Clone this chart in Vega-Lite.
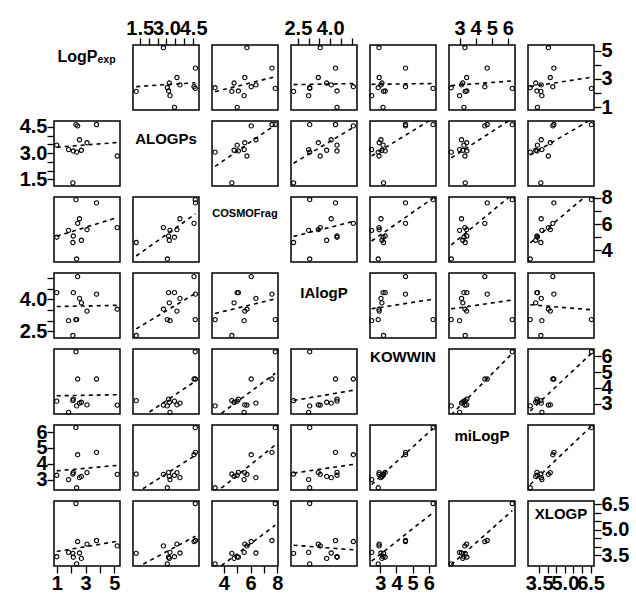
{
"$schema": "https://vega.github.io/schema/vega-lite/v6.json",
"padding": {"left": 18, "top": 17, "right": 5, "bottom": 0},
"datasets": {"d": [
{"LogPexp":2.33,"ALOGPs":4.62,"COSMOFrag":7.85,"IAlogP":3.05,"KOWWIN":6.27,"miLogP":6.28,"XLOGP":6.55},
{"LogPexp":2.12,"ALOGPs":1.30,"COSMOFrag":4.60,"IAlogP":2.30,"KOWWIN":3.20,"miLogP":3.35,"XLOGP":3.60},
{"LogPexp":5.20,"ALOGPs":2.83,"COSMOFrag":5.73,"IAlogP":3.54,"KOWWIN":2.92,"miLogP":3.33,"XLOGP":4.04},
{"LogPexp":3.76,"ALOGPs":4.63,"COSMOFrag":7.60,"IAlogP":4.25,"KOWWIN":4.56,"miLogP":4.72,"XLOGP":4.36},
{"LogPexp":1.00,"ALOGPs":3.45,"COSMOFrag":5.00,"IAlogP":4.32,"KOWWIN":3.17,"miLogP":3.27,"XLOGP":3.40},
{"LogPexp":2.38,"ALOGPs":3.05,"COSMOFrag":3.35,"IAlogP":3.05,"KOWWIN":2.87,"miLogP":2.48,"XLOGP":2.98},
{"LogPexp":1.82,"ALOGPs":3.20,"COSMOFrag":5.52,"IAlogP":3.00,"KOWWIN":2.46,"miLogP":3.00,"XLOGP":3.66},
{"LogPexp":2.58,"ALOGPs":3.76,"COSMOFrag":6.40,"IAlogP":4.05,"KOWWIN":3.04,"miLogP":3.12,"XLOGP":3.62},
{"LogPexp":2.71,"ALOGPs":3.16,"COSMOFrag":4.77,"IAlogP":3.84,"KOWWIN":3.10,"miLogP":3.20,"XLOGP":3.30},
{"LogPexp":2.45,"ALOGPs":4.55,"COSMOFrag":6.05,"IAlogP":5.08,"KOWWIN":4.56,"miLogP":4.57,"XLOGP":4.30},
{"LogPexp":3.10,"ALOGPs":3.59,"COSMOFrag":5.57,"IAlogP":3.45,"KOWWIN":2.93,"miLogP":3.44,"XLOGP":4.15},
{"LogPexp":2.15,"ALOGPs":3.12,"COSMOFrag":5.09,"IAlogP":4.32,"KOWWIN":3.30,"miLogP":3.45,"XLOGP":3.37}
]},
"columns": 7,
"spacing": {"row": 11, "column": 13},
"bounds": "flush",
"resolve": {"scale": {"x": "independent", "y": "independent"}},
"concat": [
{"width":66,"height":65,"data":{"values":[{"main":"LogP","sub":"exp"}]},"layer":[
 {"mark":{"type":"text","fontSize":16,"align":"right","baseline":"middle","dx":10.5,"dy":-20.5},"encoding":{"text":{"field":"main"}}},
 {"mark":{"type":"text","fontSize":10.5,"align":"left","baseline":"middle","dx":10.5,"dy":-17.5},"encoding":{"text":{"field":"sub"}}}]},
{"width":66,"height":65,"data":{"name":"d"},"encoding":{"x":{"field":"ALOGPs","type":"quantitative","scale":{"domain":[1.12,4.83],"nice":false},"axis":{"orient":"top","title":null,"values":[1.5,2,2.5,3,3.5,4,4.5],"format":".1f","labelExpr":"(datum.value == 1.5 || datum.value == 3 || datum.value == 4.5) ? datum.label : ''"}},"y":{"field":"LogPexp","type":"quantitative","scale":{"domain":[0.81,5.39],"nice":false},"axis":null}},"layer":[{"mark":"point"},{"transform":[{"regression":"LogPexp","on":"ALOGPs"}],"mark":{"type":"line","clip":true}}]},
{"width":66,"height":65,"data":{"name":"d"},"encoding":{"x":{"field":"COSMOFrag","type":"quantitative","scale":{"domain":[3.12,8.05],"nice":false},"axis":null},"y":{"field":"LogPexp","type":"quantitative","scale":{"domain":[0.81,5.39],"nice":false},"axis":null}},"layer":[{"mark":"point"},{"transform":[{"regression":"LogPexp","on":"COSMOFrag"}],"mark":{"type":"line","clip":true}}]},
{"width":66,"height":65,"data":{"name":"d"},"encoding":{"x":{"field":"IAlogP","type":"quantitative","scale":{"domain":[2.18,5.25],"nice":false},"axis":{"orient":"top","title":null,"values":[2.5,3,3.5,4,4.5,5],"format":".1f","labelExpr":"(datum.value == 2.5 || datum.value == 4) ? datum.label : ''"}},"y":{"field":"LogPexp","type":"quantitative","scale":{"domain":[0.81,5.39],"nice":false},"axis":null}},"layer":[{"mark":"point"},{"transform":[{"regression":"LogPexp","on":"IAlogP"}],"mark":{"type":"line","clip":true}}]},
{"width":66,"height":65,"data":{"name":"d"},"encoding":{"x":{"field":"KOWWIN","type":"quantitative","scale":{"domain":[2.36,6.45],"nice":false},"axis":null},"y":{"field":"LogPexp","type":"quantitative","scale":{"domain":[0.81,5.39],"nice":false},"axis":null}},"layer":[{"mark":"point"},{"transform":[{"regression":"LogPexp","on":"KOWWIN"}],"mark":{"type":"line","clip":true}}]},
{"width":66,"height":65,"data":{"name":"d"},"encoding":{"x":{"field":"miLogP","type":"quantitative","scale":{"domain":[2.34,6.45],"nice":false},"axis":{"orient":"top","title":null,"values":[3,4,5,6]}},"y":{"field":"LogPexp","type":"quantitative","scale":{"domain":[0.81,5.39],"nice":false},"axis":null}},"layer":[{"mark":"point"},{"transform":[{"regression":"LogPexp","on":"miLogP"}],"mark":{"type":"line","clip":true}}]},
{"width":66,"height":65,"data":{"name":"d"},"encoding":{"x":{"field":"XLOGP","type":"quantitative","scale":{"domain":[2.85,6.7],"nice":false},"axis":null},"y":{"field":"LogPexp","type":"quantitative","scale":{"domain":[0.81,5.39],"nice":false},"axis":{"orient":"right","title":null,"values":[1,2,3,4,5],"labelExpr":"(datum.value == 1 || datum.value == 3 || datum.value == 5) ? datum.label : ''"}}},"layer":[{"mark":"point"},{"transform":[{"regression":"LogPexp","on":"XLOGP"}],"mark":{"type":"line","clip":true}}]},

{"width":66,"height":65,"data":{"name":"d"},"encoding":{"x":{"field":"LogPexp","type":"quantitative","scale":{"domain":[0.81,5.39],"nice":false},"axis":null},"y":{"field":"ALOGPs","type":"quantitative","scale":{"domain":[1.12,4.83],"nice":false},"axis":{"orient":"left","title":null,"values":[1.5,2,2.5,3,3.5,4,4.5],"format":".1f","labelExpr":"(datum.value == 1.5 || datum.value == 3 || datum.value == 4.5) ? datum.label : ''"}}},"layer":[{"mark":"point"},{"transform":[{"regression":"ALOGPs","on":"LogPexp"}],"mark":{"type":"line","clip":true}}]},
{"width":66,"height":65,"data":{"values":[{"name":"ALOGPs"}]},"mark":{"type":"text","fontSize":15,"align":"center","baseline":"middle","dy":-15},"encoding":{"text":{"field":"name"}}},
{"width":66,"height":65,"data":{"name":"d"},"encoding":{"x":{"field":"COSMOFrag","type":"quantitative","scale":{"domain":[3.12,8.05],"nice":false},"axis":null},"y":{"field":"ALOGPs","type":"quantitative","scale":{"domain":[1.12,4.83],"nice":false},"axis":null}},"layer":[{"mark":"point"},{"transform":[{"regression":"ALOGPs","on":"COSMOFrag"}],"mark":{"type":"line","clip":true}}]},
{"width":66,"height":65,"data":{"name":"d"},"encoding":{"x":{"field":"IAlogP","type":"quantitative","scale":{"domain":[2.18,5.25],"nice":false},"axis":null},"y":{"field":"ALOGPs","type":"quantitative","scale":{"domain":[1.12,4.83],"nice":false},"axis":null}},"layer":[{"mark":"point"},{"transform":[{"regression":"ALOGPs","on":"IAlogP"}],"mark":{"type":"line","clip":true}}]},
{"width":66,"height":65,"data":{"name":"d"},"encoding":{"x":{"field":"KOWWIN","type":"quantitative","scale":{"domain":[2.36,6.45],"nice":false},"axis":null},"y":{"field":"ALOGPs","type":"quantitative","scale":{"domain":[1.12,4.83],"nice":false},"axis":null}},"layer":[{"mark":"point"},{"transform":[{"regression":"ALOGPs","on":"KOWWIN"}],"mark":{"type":"line","clip":true}}]},
{"width":66,"height":65,"data":{"name":"d"},"encoding":{"x":{"field":"miLogP","type":"quantitative","scale":{"domain":[2.34,6.45],"nice":false},"axis":null},"y":{"field":"ALOGPs","type":"quantitative","scale":{"domain":[1.12,4.83],"nice":false},"axis":null}},"layer":[{"mark":"point"},{"transform":[{"regression":"ALOGPs","on":"miLogP"}],"mark":{"type":"line","clip":true}}]},
{"width":66,"height":65,"data":{"name":"d"},"encoding":{"x":{"field":"XLOGP","type":"quantitative","scale":{"domain":[2.85,6.7],"nice":false},"axis":null},"y":{"field":"ALOGPs","type":"quantitative","scale":{"domain":[1.12,4.83],"nice":false},"axis":null}},"layer":[{"mark":"point"},{"transform":[{"regression":"ALOGPs","on":"XLOGP"}],"mark":{"type":"line","clip":true}}]},

{"width":66,"height":65,"data":{"name":"d"},"encoding":{"x":{"field":"LogPexp","type":"quantitative","scale":{"domain":[0.81,5.39],"nice":false},"axis":null},"y":{"field":"COSMOFrag","type":"quantitative","scale":{"domain":[3.12,8.05],"nice":false},"axis":null}},"layer":[{"mark":"point"},{"transform":[{"regression":"COSMOFrag","on":"LogPexp"}],"mark":{"type":"line","clip":true}}]},
{"width":66,"height":65,"data":{"name":"d"},"encoding":{"x":{"field":"ALOGPs","type":"quantitative","scale":{"domain":[1.12,4.83],"nice":false},"axis":null},"y":{"field":"COSMOFrag","type":"quantitative","scale":{"domain":[3.12,8.05],"nice":false},"axis":null}},"layer":[{"mark":"point"},{"transform":[{"regression":"COSMOFrag","on":"ALOGPs"}],"mark":{"type":"line","clip":true}}]},
{"width":66,"height":65,"data":{"values":[{"name":"COSMOFrag"}]},"mark":{"type":"text","fontSize":11,"align":"center","baseline":"middle","dy":-15.5},"encoding":{"text":{"field":"name"}}},
{"width":66,"height":65,"data":{"name":"d"},"encoding":{"x":{"field":"IAlogP","type":"quantitative","scale":{"domain":[2.18,5.25],"nice":false},"axis":null},"y":{"field":"COSMOFrag","type":"quantitative","scale":{"domain":[3.12,8.05],"nice":false},"axis":null}},"layer":[{"mark":"point"},{"transform":[{"regression":"COSMOFrag","on":"IAlogP"}],"mark":{"type":"line","clip":true}}]},
{"width":66,"height":65,"data":{"name":"d"},"encoding":{"x":{"field":"KOWWIN","type":"quantitative","scale":{"domain":[2.36,6.45],"nice":false},"axis":null},"y":{"field":"COSMOFrag","type":"quantitative","scale":{"domain":[3.12,8.05],"nice":false},"axis":null}},"layer":[{"mark":"point"},{"transform":[{"regression":"COSMOFrag","on":"KOWWIN"}],"mark":{"type":"line","clip":true}}]},
{"width":66,"height":65,"data":{"name":"d"},"encoding":{"x":{"field":"miLogP","type":"quantitative","scale":{"domain":[2.34,6.45],"nice":false},"axis":null},"y":{"field":"COSMOFrag","type":"quantitative","scale":{"domain":[3.12,8.05],"nice":false},"axis":null}},"layer":[{"mark":"point"},{"transform":[{"regression":"COSMOFrag","on":"miLogP"}],"mark":{"type":"line","clip":true}}]},
{"width":66,"height":65,"data":{"name":"d"},"encoding":{"x":{"field":"XLOGP","type":"quantitative","scale":{"domain":[2.85,6.7],"nice":false},"axis":null},"y":{"field":"COSMOFrag","type":"quantitative","scale":{"domain":[3.12,8.05],"nice":false},"axis":{"orient":"right","title":null,"values":[4,5,6,7,8],"labelExpr":"(datum.value == 4 || datum.value == 6 || datum.value == 8) ? datum.label : ''"}}},"layer":[{"mark":"point"},{"transform":[{"regression":"COSMOFrag","on":"XLOGP"}],"mark":{"type":"line","clip":true}}]},

{"width":66,"height":65,"data":{"name":"d"},"encoding":{"x":{"field":"LogPexp","type":"quantitative","scale":{"domain":[0.81,5.39],"nice":false},"axis":null},"y":{"field":"IAlogP","type":"quantitative","scale":{"domain":[2.18,5.25],"nice":false},"axis":{"orient":"left","title":null,"values":[2.5,3,3.5,4,4.5,5],"format":".1f","labelExpr":"(datum.value == 2.5 || datum.value == 4) ? datum.label : ''"}}},"layer":[{"mark":"point"},{"transform":[{"regression":"IAlogP","on":"LogPexp"}],"mark":{"type":"line","clip":true}}]},
{"width":66,"height":65,"data":{"name":"d"},"encoding":{"x":{"field":"ALOGPs","type":"quantitative","scale":{"domain":[1.12,4.83],"nice":false},"axis":null},"y":{"field":"IAlogP","type":"quantitative","scale":{"domain":[2.18,5.25],"nice":false},"axis":null}},"layer":[{"mark":"point"},{"transform":[{"regression":"IAlogP","on":"ALOGPs"}],"mark":{"type":"line","clip":true}}]},
{"width":66,"height":65,"data":{"name":"d"},"encoding":{"x":{"field":"COSMOFrag","type":"quantitative","scale":{"domain":[3.12,8.05],"nice":false},"axis":null},"y":{"field":"IAlogP","type":"quantitative","scale":{"domain":[2.18,5.25],"nice":false},"axis":null}},"layer":[{"mark":"point"},{"transform":[{"regression":"IAlogP","on":"COSMOFrag"}],"mark":{"type":"line","clip":true}}]},
{"width":66,"height":65,"data":{"values":[{"name":"IAlogP"}]},"mark":{"type":"text","fontSize":15,"align":"center","baseline":"middle","dy":-12.5},"encoding":{"text":{"field":"name"}}},
{"width":66,"height":65,"data":{"name":"d"},"encoding":{"x":{"field":"KOWWIN","type":"quantitative","scale":{"domain":[2.36,6.45],"nice":false},"axis":null},"y":{"field":"IAlogP","type":"quantitative","scale":{"domain":[2.18,5.25],"nice":false},"axis":null}},"layer":[{"mark":"point"},{"transform":[{"regression":"IAlogP","on":"KOWWIN"}],"mark":{"type":"line","clip":true}}]},
{"width":66,"height":65,"data":{"name":"d"},"encoding":{"x":{"field":"miLogP","type":"quantitative","scale":{"domain":[2.34,6.45],"nice":false},"axis":null},"y":{"field":"IAlogP","type":"quantitative","scale":{"domain":[2.18,5.25],"nice":false},"axis":null}},"layer":[{"mark":"point"},{"transform":[{"regression":"IAlogP","on":"miLogP"}],"mark":{"type":"line","clip":true}}]},
{"width":66,"height":65,"data":{"name":"d"},"encoding":{"x":{"field":"XLOGP","type":"quantitative","scale":{"domain":[2.85,6.7],"nice":false},"axis":null},"y":{"field":"IAlogP","type":"quantitative","scale":{"domain":[2.18,5.25],"nice":false},"axis":null}},"layer":[{"mark":"point"},{"transform":[{"regression":"IAlogP","on":"XLOGP"}],"mark":{"type":"line","clip":true}}]},

{"width":66,"height":65,"data":{"name":"d"},"encoding":{"x":{"field":"LogPexp","type":"quantitative","scale":{"domain":[0.81,5.39],"nice":false},"axis":null},"y":{"field":"KOWWIN","type":"quantitative","scale":{"domain":[2.36,6.45],"nice":false},"axis":null}},"layer":[{"mark":"point"},{"transform":[{"regression":"KOWWIN","on":"LogPexp"}],"mark":{"type":"line","clip":true}}]},
{"width":66,"height":65,"data":{"name":"d"},"encoding":{"x":{"field":"ALOGPs","type":"quantitative","scale":{"domain":[1.12,4.83],"nice":false},"axis":null},"y":{"field":"KOWWIN","type":"quantitative","scale":{"domain":[2.36,6.45],"nice":false},"axis":null}},"layer":[{"mark":"point"},{"transform":[{"regression":"KOWWIN","on":"ALOGPs"}],"mark":{"type":"line","clip":true}}]},
{"width":66,"height":65,"data":{"name":"d"},"encoding":{"x":{"field":"COSMOFrag","type":"quantitative","scale":{"domain":[3.12,8.05],"nice":false},"axis":null},"y":{"field":"KOWWIN","type":"quantitative","scale":{"domain":[2.36,6.45],"nice":false},"axis":null}},"layer":[{"mark":"point"},{"transform":[{"regression":"KOWWIN","on":"COSMOFrag"}],"mark":{"type":"line","clip":true}}]},
{"width":66,"height":65,"data":{"name":"d"},"encoding":{"x":{"field":"IAlogP","type":"quantitative","scale":{"domain":[2.18,5.25],"nice":false},"axis":null},"y":{"field":"KOWWIN","type":"quantitative","scale":{"domain":[2.36,6.45],"nice":false},"axis":null}},"layer":[{"mark":"point"},{"transform":[{"regression":"KOWWIN","on":"IAlogP"}],"mark":{"type":"line","clip":true}}]},
{"width":66,"height":65,"data":{"values":[{"name":"KOWWIN"}]},"mark":{"type":"text","fontSize":15,"align":"center","baseline":"middle","dy":-24.5},"encoding":{"text":{"field":"name"}}},
{"width":66,"height":65,"data":{"name":"d"},"encoding":{"x":{"field":"miLogP","type":"quantitative","scale":{"domain":[2.34,6.45],"nice":false},"axis":null},"y":{"field":"KOWWIN","type":"quantitative","scale":{"domain":[2.36,6.45],"nice":false},"axis":null}},"layer":[{"mark":"point"},{"transform":[{"regression":"KOWWIN","on":"miLogP"}],"mark":{"type":"line","clip":true}}]},
{"width":66,"height":65,"data":{"name":"d"},"encoding":{"x":{"field":"XLOGP","type":"quantitative","scale":{"domain":[2.85,6.7],"nice":false},"axis":null},"y":{"field":"KOWWIN","type":"quantitative","scale":{"domain":[2.36,6.45],"nice":false},"axis":{"orient":"right","title":null,"values":[3,4,5,6]}}},"layer":[{"mark":"point"},{"transform":[{"regression":"KOWWIN","on":"XLOGP"}],"mark":{"type":"line","clip":true}}]},

{"width":66,"height":65,"data":{"name":"d"},"encoding":{"x":{"field":"LogPexp","type":"quantitative","scale":{"domain":[0.81,5.39],"nice":false},"axis":null},"y":{"field":"miLogP","type":"quantitative","scale":{"domain":[2.34,6.45],"nice":false},"axis":{"orient":"left","title":null,"values":[3,4,5,6]}}},"layer":[{"mark":"point"},{"transform":[{"regression":"miLogP","on":"LogPexp"}],"mark":{"type":"line","clip":true}}]},
{"width":66,"height":65,"data":{"name":"d"},"encoding":{"x":{"field":"ALOGPs","type":"quantitative","scale":{"domain":[1.12,4.83],"nice":false},"axis":null},"y":{"field":"miLogP","type":"quantitative","scale":{"domain":[2.34,6.45],"nice":false},"axis":null}},"layer":[{"mark":"point"},{"transform":[{"regression":"miLogP","on":"ALOGPs"}],"mark":{"type":"line","clip":true}}]},
{"width":66,"height":65,"data":{"name":"d"},"encoding":{"x":{"field":"COSMOFrag","type":"quantitative","scale":{"domain":[3.12,8.05],"nice":false},"axis":null},"y":{"field":"miLogP","type":"quantitative","scale":{"domain":[2.34,6.45],"nice":false},"axis":null}},"layer":[{"mark":"point"},{"transform":[{"regression":"miLogP","on":"COSMOFrag"}],"mark":{"type":"line","clip":true}}]},
{"width":66,"height":65,"data":{"name":"d"},"encoding":{"x":{"field":"IAlogP","type":"quantitative","scale":{"domain":[2.18,5.25],"nice":false},"axis":null},"y":{"field":"miLogP","type":"quantitative","scale":{"domain":[2.34,6.45],"nice":false},"axis":null}},"layer":[{"mark":"point"},{"transform":[{"regression":"miLogP","on":"IAlogP"}],"mark":{"type":"line","clip":true}}]},
{"width":66,"height":65,"data":{"name":"d"},"encoding":{"x":{"field":"KOWWIN","type":"quantitative","scale":{"domain":[2.36,6.45],"nice":false},"axis":null},"y":{"field":"miLogP","type":"quantitative","scale":{"domain":[2.34,6.45],"nice":false},"axis":null}},"layer":[{"mark":"point"},{"transform":[{"regression":"miLogP","on":"KOWWIN"}],"mark":{"type":"line","clip":true}}]},
{"width":66,"height":65,"data":{"values":[{"name":"miLogP"}]},"mark":{"type":"text","fontSize":15,"align":"center","baseline":"middle","dy":-21.5},"encoding":{"text":{"field":"name"}}},
{"width":66,"height":65,"data":{"name":"d"},"encoding":{"x":{"field":"XLOGP","type":"quantitative","scale":{"domain":[2.85,6.7],"nice":false},"axis":null},"y":{"field":"miLogP","type":"quantitative","scale":{"domain":[2.34,6.45],"nice":false},"axis":null}},"layer":[{"mark":"point"},{"transform":[{"regression":"miLogP","on":"XLOGP"}],"mark":{"type":"line","clip":true}}]},

{"width":66,"height":65,"data":{"name":"d"},"encoding":{"x":{"field":"LogPexp","type":"quantitative","scale":{"domain":[0.81,5.39],"nice":false},"axis":{"orient":"bottom","title":null,"values":[1,2,3,4,5],"labelExpr":"(datum.value == 1 || datum.value == 3 || datum.value == 5) ? datum.label : ''"}},"y":{"field":"XLOGP","type":"quantitative","scale":{"domain":[2.85,6.7],"nice":false},"axis":null}},"layer":[{"mark":"point"},{"transform":[{"regression":"XLOGP","on":"LogPexp"}],"mark":{"type":"line","clip":true}}]},
{"width":66,"height":65,"data":{"name":"d"},"encoding":{"x":{"field":"ALOGPs","type":"quantitative","scale":{"domain":[1.12,4.83],"nice":false},"axis":null},"y":{"field":"XLOGP","type":"quantitative","scale":{"domain":[2.85,6.7],"nice":false},"axis":null}},"layer":[{"mark":"point"},{"transform":[{"regression":"XLOGP","on":"ALOGPs"}],"mark":{"type":"line","clip":true}}]},
{"width":66,"height":65,"data":{"name":"d"},"encoding":{"x":{"field":"COSMOFrag","type":"quantitative","scale":{"domain":[3.12,8.05],"nice":false},"axis":{"orient":"bottom","title":null,"values":[4,5,6,7,8],"labelExpr":"(datum.value == 4 || datum.value == 6 || datum.value == 8) ? datum.label : ''"}},"y":{"field":"XLOGP","type":"quantitative","scale":{"domain":[2.85,6.7],"nice":false},"axis":null}},"layer":[{"mark":"point"},{"transform":[{"regression":"XLOGP","on":"COSMOFrag"}],"mark":{"type":"line","clip":true}}]},
{"width":66,"height":65,"data":{"name":"d"},"encoding":{"x":{"field":"IAlogP","type":"quantitative","scale":{"domain":[2.18,5.25],"nice":false},"axis":null},"y":{"field":"XLOGP","type":"quantitative","scale":{"domain":[2.85,6.7],"nice":false},"axis":null}},"layer":[{"mark":"point"},{"transform":[{"regression":"XLOGP","on":"IAlogP"}],"mark":{"type":"line","clip":true}}]},
{"width":66,"height":65,"data":{"name":"d"},"encoding":{"x":{"field":"KOWWIN","type":"quantitative","scale":{"domain":[2.36,6.45],"nice":false},"axis":{"orient":"bottom","title":null,"values":[3,4,5,6]}},"y":{"field":"XLOGP","type":"quantitative","scale":{"domain":[2.85,6.7],"nice":false},"axis":null}},"layer":[{"mark":"point"},{"transform":[{"regression":"XLOGP","on":"KOWWIN"}],"mark":{"type":"line","clip":true}}]},
{"width":66,"height":65,"data":{"name":"d"},"encoding":{"x":{"field":"miLogP","type":"quantitative","scale":{"domain":[2.34,6.45],"nice":false},"axis":null},"y":{"field":"XLOGP","type":"quantitative","scale":{"domain":[2.85,6.7],"nice":false},"axis":null}},"layer":[{"mark":"point"},{"transform":[{"regression":"XLOGP","on":"miLogP"}],"mark":{"type":"line","clip":true}}]},
{"width":66,"height":65,"data":{"name":"d"},"layer":[{"mark":{"type":"point","opacity":0},"encoding":{"x":{"field":"XLOGP","type":"quantitative","scale":{"domain":[2.85,6.7],"nice":false},"axis":{"orient":"bottom","title":null,"values":[3.5,4,4.5,5,5.5,6,6.5],"format":".1f","labelExpr":"(datum.value == 3.5 || datum.value == 5 || datum.value == 6.5) ? datum.label : ''"}},"y":{"field":"XLOGP","type":"quantitative","scale":{"domain":[2.85,6.7],"nice":false},"axis":{"orient":"right","title":null,"values":[3.5,4,4.5,5,5.5,6,6.5],"format":".1f","labelExpr":"(datum.value == 3.5 || datum.value == 5 || datum.value == 6.5) ? datum.label : ''"}}}},{"data":{"values":[{"name":"XLOGP"}]},"mark":{"type":"text","fontSize":15,"align":"center","baseline":"middle","dy":-20},"encoding":{"text":{"field":"name"}}}]}
],
"config": {
 "view": {"stroke": "black", "strokeWidth": 1.5},
 "axis": {"domain": false, "grid": false, "tickColor": "black", "tickSize": 7, "tickWidth": 1.3, "labelFont": "Liberation Sans", "labelFontSize": 20, "labelFontWeight": "bold", "labelColor": "black", "labelPadding": 0, "labelOverlap": false, "labelFlush": false, "labelBound": false},
 "point": {"filled": false, "size": 18, "color": "black", "strokeWidth": 1.1, "opacity": 1, "shape": "circle"},
 "line": {"color": "black", "strokeWidth": 1.6, "strokeDash": [4, 4]},
 "text": {"color": "black", "font": "Liberation Sans", "fontWeight": "bold"}
}
}
